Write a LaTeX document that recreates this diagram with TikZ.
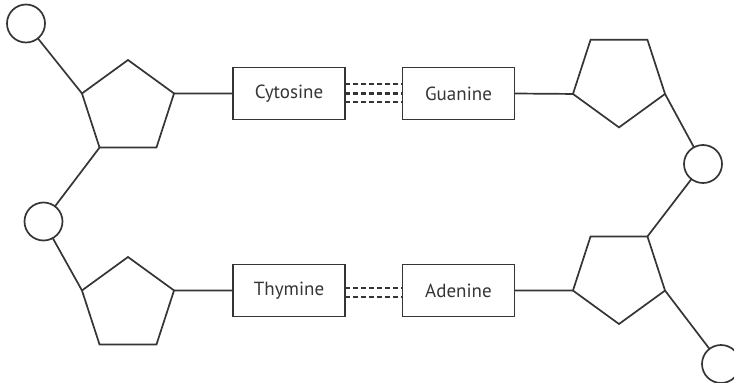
\documentclass[tikz,border=0pt]{standalone}
\usepackage{fontspec}
\setsansfont{PT Sans}
\usetikzlibrary{shapes.geometric}
\definecolor{ink}{HTML}{353535}
\begin{document}
\begin{tikzpicture}[x=1pt,y=-1pt,line width=1.7pt,color=ink,
  sugar/.style={regular polygon,regular polygon sides=5,draw,minimum size=96.8pt,inner sep=0pt,outer sep=0pt},
  phos/.style={circle,draw,minimum size=38pt,inner sep=0pt,outer sep=0pt},
  base/.style={rectangle,draw,minimum width=112pt,minimum height=52pt,inner sep=0pt,outer sep=0pt,
    font=\sffamily\fontsize{19}{21}\selectfont,text=ink},
  hbond/.style={dash pattern=on 5pt off 3pt,line width=2.4pt}]
\useasboundingbox[fill=white] (0,0) rectangle (734,383);

% phosphate groups
\node[phos] (p1) at (26,23.5) {};
\node[phos] (p2) at (43.5,221.5) {};
\node[phos] (p3) at (703,164) {};
\node[phos] (p4) at (721,364) {};

% deoxyribose sugars
\node[sugar] (s1) at (128,108.4) {};
\node[sugar] (s2) at (128,305.4) {};
\node[sugar,rotate=180] (s3) at (619,79) {};
\node[sugar,rotate=180] (s4) at (619,275.6) {};

% bases
\node[base] (cy) at (289,93.5) {Cytosine};
\node[base] (gu) at (458.5,93.5) {Guanine};
\node[base] (th) at (289,290.5) {Thymine};
\node[base] (ad) at (458.5,290.5) {Adenine};

% left backbone
\draw (p1) -- (s1.corner 2);
\draw (s1.corner 3) -- (p2);
\draw (p2) -- (s2.corner 2);
\draw (s1.corner 5) -- (cy.west);
\draw (s2.corner 5) -- (th.west);

% right backbone
\draw (gu.east) -- (s3.corner 5);
\draw (ad.east) -- (s4.corner 5);
\draw (s3.corner 2) -- (p3);
\draw (p3) -- (s4.corner 3);
\draw (s4.corner 2) -- (p4);

% hydrogen bonds
\foreach \dy in {9.5,0,-8.5}
  \draw[hbond] ([yshift=\dy pt]cy.east) -- ([yshift=\dy pt]gu.west);
\foreach \dy in {2.5,-6.5}
  \draw[hbond] ([yshift=\dy pt]th.east) -- ([yshift=\dy pt]ad.west);
\end{tikzpicture}
\end{document}
